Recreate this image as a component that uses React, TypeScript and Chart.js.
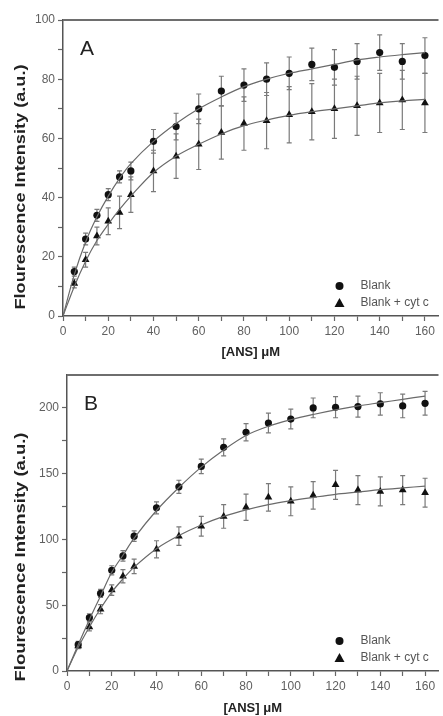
import React, { useEffect, useRef } from "react";
import { Chart, registerables } from "chart.js";

Chart.register(...registerables);

// ANS concentrations (µM)
const X_CONC = [5, 10, 15, 20, 25, 30, 40, 50, 60, 70, 80, 90, 100, 110, 120, 130, 140, 150, 160];
const FIT_CONC = [0, 5, 10, 15, 20, 25, 30, 40, 50, 60, 70, 80, 90, 100, 110, 120, 130, 140, 150, 160];
const X_TICKS = [0, 10, 20, 30, 40, 50, 60, 70, 80, 90, 100, 110, 120, 130, 140, 150, 160];

// Panel A
const A_BLANK = [15, 26, 34, 41, 47, 49, 59, 64, 70, 76, 78, 80, 82, 85, 84, 86, 89, 86, 88];
const A_BLANK_ERR = [1.5, 2, 2, 2, 2, 3, 4, 4.5, 5, 5, 5.5, 5.5, 5.5, 5.5, 6, 6, 6, 6, 6];
const A_CYT = [11, 19, 27, 32, 35, 41, 49, 54, 58, 62, 65, 66, 68, 69, 70, 71, 72, 73, 72];
const A_CYT_ERR = [1.5, 2.5, 3, 4.5, 5.5, 6, 7, 7.5, 8.5, 9, 9, 9.5, 9.5, 9.5, 10, 10, 10, 10, 10];
const A_FIT_BLANK = [0, 14, 25, 33.5, 40.5, 46.5, 51.5, 59, 65, 70, 74, 77.5, 80, 82, 83.5, 85, 86.5, 87.5, 88.3, 89];
const A_FIT_CYT = [0, 10, 18.5, 25.5, 31, 36, 40.5, 48.5, 54, 58, 61.5, 64.3, 66.2, 67.8, 69, 70, 71, 72, 72.7, 73.2];
const A_Y_TICKS = [0, 10, 20, 30, 40, 50, 60, 70, 80, 90, 100];

// Panel B
const B_BLANK = [20, 40.5, 59, 76.5, 87.5, 102.5, 124, 140, 155.5, 170, 181.5, 188.5, 191.5, 200, 200.5, 201, 203, 201.5, 203.5];
const B_BLANK_ERR = [2.5, 3, 3, 3.5, 4, 4, 4.5, 5, 5.5, 6.5, 6.5, 7.5, 7.5, 7.5, 8, 8, 8.5, 9, 9];
const B_CYT = [19, 33.5, 47, 61.5, 72, 79.5, 92.5, 102.5, 110, 117.5, 124.5, 132, 129, 133.5, 141.5, 137.5, 136.5, 137.5, 135.5];
const B_CYT_ERR = [2, 3, 3.5, 4, 5, 5.5, 6.5, 7, 7.5, 9, 10, 10.5, 11, 10.5, 11, 11, 11, 11, 11];
const B_FIT_BLANK = [0, 20, 39, 57, 75, 88, 101, 122, 139.5, 155, 168, 179, 186, 191, 195, 198.5, 201.5, 204, 206.5, 209];
const B_FIT_CYT = [0, 18, 33.5, 47.5, 60, 70, 79, 93, 103, 111, 117.5, 122.5, 126.5, 129.5, 132, 134.3, 136, 137.8, 139.2, 140.5];
const B_Y_TICKS = [0, 25, 50, 75, 100, 125, 150, 175, 200];

const SERIES_NAMES = ["Blank", "Blank + cyt c"];
const X_TITLE = "[ANS] μM";
const Y_TITLE = "Flourescence Intensity (a.u.)";

const FONT = "'Liberation Sans', Arial, Helvetica, sans-serif";

type PanelProps = {
  top: number;
  height: number;
  padTop: number;
  yWidth: number;
  xHeight: number;
  yMax: number;
  yTicks: number[];
  yLabelStep: number;
  letter: string;
  titleCenterY: number;
  titleLength: number;
  blank: number[];
  blankErr: number[];
  cyt: number[];
  cytErr: number[];
  fitBlank: number[];
  fitCyt: number[];
};

const errorBarPlugin = {
  id: "errorBars",
  beforeDatasetsDraw(chart: any) {
    const ctx = chart.ctx;
    const xs = chart.scales.x;
    const ys = chart.scales.y;
    ctx.save();
    ctx.strokeStyle = "#7a7a7a";
    ctx.lineWidth = 1.2;
    chart.data.datasets.forEach((ds: any) => {
      if (!ds.errors) return;
      ds.data.forEach((p: any, i: number) => {
        const e = ds.errors[i];
        const px = xs.getPixelForValue(p.x);
        const y1 = ys.getPixelForValue(p.y + e);
        const y2 = ys.getPixelForValue(p.y - e);
        ctx.beginPath();
        ctx.moveTo(px, y1);
        ctx.lineTo(px, y2);
        ctx.moveTo(px - 2.5, y1);
        ctx.lineTo(px + 2.5, y1);
        ctx.moveTo(px - 2.5, y2);
        ctx.lineTo(px + 2.5, y2);
        ctx.stroke();
      });
    });
    ctx.restore();
  },
};

const framePlugin = {
  id: "frame",
  afterDraw(chart: any) {
    const { ctx, chartArea } = chart;
    ctx.save();
    ctx.strokeStyle = "#6e6e6e";
    ctx.lineWidth = 2;
    ctx.beginPath();
    ctx.moveTo(chartArea.left, chartArea.top);
    ctx.lineTo(chartArea.right, chartArea.top);
    ctx.stroke();
    ctx.restore();
  },
};

const letterLegendPlugin = {
  id: "letterLegend",
  afterDraw(chart: any, _args: any, opts: any) {
    const { ctx, chartArea } = chart;
    ctx.save();
    ctx.fillStyle = "#222";
    ctx.font = `21px ${FONT}`;
    ctx.textBaseline = "alphabetic";
    ctx.textAlign = "left";
    ctx.fillText(opts.letter, chartArea.left + 17, chartArea.top + 35);

    const mx = chartArea.right - 99;
    const tx = chartArea.right - 78;
    const r1 = chartArea.bottom - 30;
    const r2 = chartArea.bottom - 13;
    ctx.fillStyle = "#111";
    ctx.beginPath();
    ctx.arc(mx, r1, 4, 0, Math.PI * 2);
    ctx.fill();
    ctx.beginPath();
    ctx.moveTo(mx, r2 - 5);
    ctx.lineTo(mx + 5, r2 + 4);
    ctx.lineTo(mx - 5, r2 + 4);
    ctx.closePath();
    ctx.fill();
    ctx.fillStyle = "#555";
    ctx.font = `12px ${FONT}`;
    ctx.textBaseline = "middle";
    ctx.fillText(SERIES_NAMES[0], tx, r1);
    ctx.fillText(SERIES_NAMES[1], tx, r2);

    // y-axis title (stretched along its direction like the original)
    ctx.fillStyle = "#222";
    ctx.font = `bold 14px ${FONT}`;
    const w = ctx.measureText(Y_TITLE).width;
    const sx = opts.titleLength / w;
    ctx.translate(21, opts.titleCenterY);
    ctx.rotate(-Math.PI / 2);
    ctx.scale(sx, 1);
    ctx.textAlign = "center";
    ctx.textBaseline = "middle";
    ctx.fillText(Y_TITLE, 0, 0);
    ctx.restore();
  },
};

function Panel(props: PanelProps) {
  const ref = useRef<HTMLCanvasElement | null>(null);
  useEffect(() => {
    if (!ref.current) return;
    const pts = (xs: number[], ys: number[]) => xs.map((x, i) => ({ x, y: ys[i] }));
    const chart = new Chart(ref.current, {
      type: "scatter",
      data: {
        datasets: [
          {
            label: "fit1",
            data: pts(FIT_CONC, props.fitBlank),
            showLine: true,
            borderColor: "#6a6a6a",
            borderWidth: 1.2,
            pointRadius: 0,
            tension: 0.35,
          } as any,
          {
            label: "fit2",
            data: pts(FIT_CONC, props.fitCyt),
            showLine: true,
            borderColor: "#6a6a6a",
            borderWidth: 1.2,
            pointRadius: 0,
            tension: 0.35,
          } as any,
          {
            label: SERIES_NAMES[0],
            data: pts(X_CONC, props.blank),
            errors: props.blankErr,
            pointStyle: "circle",
            pointRadius: 3.6,
            backgroundColor: "#111",
            borderColor: "#111",
            borderWidth: 0,
          } as any,
          {
            label: SERIES_NAMES[1],
            data: pts(X_CONC, props.cyt),
            errors: props.cytErr,
            pointStyle: "triangle",
            pointRadius: 4.5,
            backgroundColor: "#111",
            borderColor: "#111",
            borderWidth: 0,
          } as any,
        ],
      },
      options: {
        animation: false,
        responsive: false,
        events: [],
        layout: { padding: { left: 0, top: props.padTop, right: 0, bottom: 0 } },
        plugins: {
          legend: { display: false },
          tooltip: { enabled: false },
          letterLegend: {
            letter: props.letter,
            titleCenterY: props.titleCenterY,
            titleLength: props.titleLength,
          },
        } as any,
        scales: {
          x: {
            type: "linear",
            min: 0,
            max: 166,
            afterBuildTicks: (s: any) => {
              s.ticks = X_TICKS.map((v) => ({ value: v }));
            },
            afterFit: (s: any) => {
              s.height = props.xHeight;
            },
            ticks: {
              autoSkip: false,
              maxRotation: 0,
              padding: 3,
              color: "#606060",
              font: { family: FONT, size: 12 },
              callback: (v: any) => (v % 20 === 0 ? String(v) : ""),
            },
            grid: {
              drawOnChartArea: false,
              tickLength: 5,
              tickColor: "#666",
              tickWidth: 1.2,
            },
            border: { color: "#555", width: 1.5 },
            title: {
              display: true,
              text: X_TITLE,
              color: "#222",
              font: { family: FONT, size: 13, weight: "bold" },
              padding: 0,
            },
          },
          y: {
            type: "linear",
            min: 0,
            max: props.yMax,
            afterBuildTicks: (s: any) => {
              s.ticks = props.yTicks.map((v) => ({ value: v }));
            },
            afterFit: (s: any) => {
              s.width = props.yWidth;
            },
            ticks: {
              autoSkip: false,
              padding: 3,
              color: "#606060",
              font: { family: FONT, size: 12 },
              callback: (v: any) => (v % props.yLabelStep === 0 ? String(v) : ""),
            },
            grid: {
              drawOnChartArea: false,
              tickLength: 5,
              tickColor: "#666",
              tickWidth: 1.2,
            },
            border: { color: "#555", width: 1.5 },
            title: { display: false },
          },
        },
      } as any,
      plugins: [errorBarPlugin, framePlugin, letterLegendPlugin] as any,
    });
    return () => chart.destroy();
  }, []);
  return (
    <canvas
      ref={ref}
      width={443}
      height={props.height}
      style={{ position: "absolute", left: 0, top: props.top, width: 443, height: props.height }}
    />
  );
}

export default function App() {
  return (
    <div style={{ position: "absolute", left: 0, top: 0, width: 443, height: 716, background: "#fff", overflow: "hidden" }}>
      <Panel
        top={0}
        height={360}
        padTop={20}
        yWidth={63}
        xHeight={44}
        yMax={100}
        yTicks={A_Y_TICKS}
        yLabelStep={20}
        letter="A"
        titleCenterY={187}
        titleLength={245}
        blank={A_BLANK}
        blankErr={A_BLANK_ERR}
        cyt={A_CYT}
        cytErr={A_CYT_ERR}
        fitBlank={A_FIT_BLANK}
        fitCyt={A_FIT_CYT}
      />
      <Panel
        top={360}
        height={356}
        padTop={15}
        yWidth={67}
        xHeight={45}
        yMax={225}
        yTicks={B_Y_TICKS}
        yLabelStep={50}
        letter="B"
        titleCenterY={197}
        titleLength={249}
        blank={B_BLANK}
        blankErr={B_BLANK_ERR}
        cyt={B_CYT}
        cytErr={B_CYT_ERR}
        fitBlank={B_FIT_BLANK}
        fitCyt={B_FIT_CYT}
      />
    </div>
  );
}
